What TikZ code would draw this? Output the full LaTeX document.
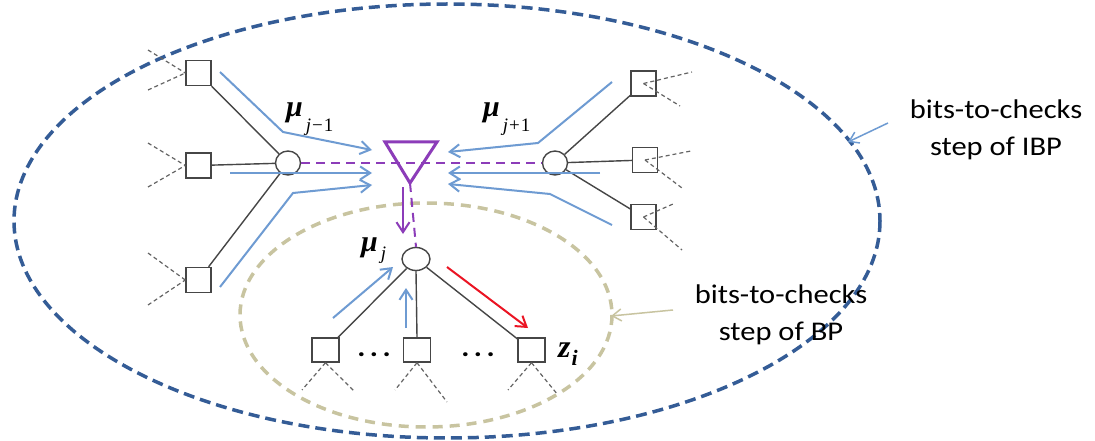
\documentclass[tikz,border=0pt]{standalone}
\usepackage{fontspec}
\usetikzlibrary{arrows.meta,shapes.geometric}
\newfontfamily\labfont[FakeStretch=1.13]{Carlito}
\newfontfamily\tnr{Liberation Serif}
\definecolor{ringblue}{RGB}{52,92,150}
\definecolor{ringtan}{RGB}{200,196,160}
\definecolor{flowblue}{RGB}{110,155,210}
\definecolor{chkpurple}{RGB}{140,60,185}
\definecolor{outred}{RGB}{235,20,35}
\definecolor{linkgray}{RGB}{70,70,70}
\definecolor{stubgray}{RGB}{100,100,100}
\begin{document}
\begin{tikzpicture}[x=1pt,y=-1pt,
  sqbox/.style={draw=linkgray, line width=1.4pt, minimum width=25pt, minimum height=25pt, inner sep=0pt},
  lowbox/.style={sqbox, minimum width=27pt, minimum height=24pt},
  bitnode/.style={ellipse, draw=linkgray, line width=1.4pt, minimum width=25pt, minimum height=24pt, inner sep=0pt},
  linkline/.style={draw=linkgray, line width=1.4pt},
  stub/.style={draw=stubgray, line width=1.2pt, dash pattern=on 4pt off 3pt},
  flow/.style={draw=flowblue, line width=2pt, line join=round, -{Straight Barb[length=10pt,width=13pt]}},
  outflow/.style={flow, draw=outred},
  chkline/.style={draw=chkpurple, line width=2pt, dash pattern=on 9pt off 6pt},
  chkflow/.style={flow, draw=chkpurple},
  pointer/.style={line width=1.5pt, -{Straight Barb[length=9pt,width=12pt]}},
  caption/.style={font=\labfont\fontsize{27}{36.5}\selectfont, align=center, inner sep=0pt},
  mathlab/.style={anchor=base west, inner sep=0pt, font=\tnr}
]
\fill[white] (0,0) rectangle (1095,441);
\useasboundingbox (0,0) rectangle (1095,441);

% enclosing rings
\draw[ringblue, line width=3.5pt, dash pattern=on 11pt off 6pt] (447,221) ellipse [x radius=433, y radius=217];
\draw[ringtan, line width=3.5pt, dash pattern=on 10pt off 7pt] (426,315) ellipse [x radius=186, y radius=112];

% check nodes (squares) and bit nodes (circles)
\node[sqbox] (L1) at (198.5,73) {};
\node[sqbox] (L2) at (198.5,165.5) {};
\node[sqbox] (L3) at (198.5,280) {};
\node[sqbox] (R1) at (643.5,83.5) {};
\node[sqbox] (R2) at (645,160) {};
\node[sqbox] (R3) at (643.5,217) {};
\node[lowbox] (B1) at (325.5,350) {};
\node[lowbox] (B2) at (417,350) {};
\node[lowbox] (B3) at (531.5,350) {};
\node[bitnode] (CL) at (288,163) {};
\node[bitnode] (CR) at (555,163) {};
\node[bitnode, minimum width=28pt, minimum height=23pt] (CB) at (416,259) {};

% graph edges
\draw[linkline] (CL) -- (L1);
\draw[linkline] (CL) -- (L2);
\draw[linkline] (CL) -- (L3);
\draw[linkline] (CR) -- (R1);
\draw[linkline] (CR) -- (R2);
\draw[linkline] (CR) -- (R3);
\draw[linkline] (CB) -- (B1);
\draw[linkline] (CB.south) -- (B2.north);
\draw[linkline] (CB) -- (B3);

% dashed stubs towards the rest of the graph
\coordinate (l1a) at (148,50);  \coordinate (l1b) at (148,90);
\coordinate (l2a) at (148,143); \coordinate (l2b) at (148,187);
\coordinate (l3a) at (148,253); \coordinate (l3b) at (148,305);
\draw[stub] (l1a) -- (L1.west); \draw[stub] (l1b) -- (L1.west);
\draw[stub] (l2a) -- (L2.west); \draw[stub] (l2b) -- (L2.west);
\draw[stub] (l3a) -- (L3.west); \draw[stub] (l3b) -- (L3.west);
\coordinate (r1a) at (692,72);  \coordinate (r1b) at (680,106);
\coordinate (r2a) at (691,151); \coordinate (r2b) at (682,188);
\coordinate (r3a) at (673,204); \coordinate (r3b) at (682,250);
\draw[stub] (R1.center) -- (r1a); \draw[stub] (R1.center) -- (r1b);
\draw[stub] (R2.center) -- (r2a); \draw[stub] (R2.center) -- (r2b);
\draw[stub] (R3.center) -- (r3a); \draw[stub] (R3.center) -- (r3b);
\coordinate (b1a) at (302,390); \coordinate (b1b) at (355,392);
\coordinate (b2a) at (395,390); \coordinate (b2b) at (447,402);
\coordinate (b3a) at (508,390); \coordinate (b3b) at (558,395);
\draw[stub] (B1.south) -- (b1a); \draw[stub] (B1.south) -- (b1b);
\draw[stub] (B2.south) -- (b2a); \draw[stub] (B2.south) -- (b2b);
\draw[stub] (B3.south) -- (b3a); \draw[stub] (B3.south) -- (b3b);

% dots between the lower checks
\node[font=\labfont\fontsize{27}{27}\selectfont\bfseries, inner sep=0pt, anchor=base] (dotsA) at (374,356) {.\,.\,.};
\node[font=\labfont\fontsize{27}{27}\selectfont\bfseries, inner sep=0pt, anchor=base] (dotsB) at (478,356) {.\,.\,.};

% check-side links (purple)
\coordinate (Tl) at (385,142);
\coordinate (Tr) at (437,142);
\coordinate (Tb) at (410,183);
\draw[chkline] (CL.east) -- (CR.west);
\draw[chkline] (Tb) -- (CB.north);
\draw[chkpurple, line width=3pt, line join=miter] (Tl) -- (Tr) -- (Tb) -- cycle;
\coordinate (pa) at (403,187);
\coordinate (pb) at (403,234);
\draw[chkflow] (pa) -- (pb);

% incoming messages from the left
\draw[flow] (220,72) -- (283,132) -- (372,150);
\draw[flow] (230,173) -- (372,173);
\draw[flow] (220,287) -- (293,193) -- (372,185);
% incoming messages from the right
\draw[flow] (612,82) -- (538,143) -- (448,152);
\draw[flow] (600,173) -- (448,173);
\draw[flow] (612,225) -- (550,194) -- (448,184);
% lower messages
\draw[flow] (333,318) -- (393,267);
\draw[flow] (406,328) -- (406,288);
\draw[outflow] (447,267) -- (528,328);

% message labels
\node[mathlab] (muA) at (286,116.5) {\fontsize{30}{30}\selectfont\bfseries\itshape μ\hspace{3pt}\raisebox{-15.5pt}{\fontsize{19}{19}\selectfont\mdseries j\hspace{1pt}\upshape −\hspace{1pt}1}};
\node[mathlab] (muB) at (483,116.5) {\fontsize{30}{30}\selectfont\bfseries\itshape μ\hspace{3pt}\raisebox{-15.5pt}{\fontsize{19}{19}\selectfont\mdseries j\hspace{1pt}\upshape +\hspace{1pt}1}};
\node[mathlab] (muC) at (361,251) {\fontsize{30}{30}\selectfont\bfseries\itshape μ\hspace{3pt}\raisebox{-8pt}{\fontsize{19}{19}\selectfont\mdseries j}};
\node[mathlab] (zi) at (558,357) {\fontsize{32}{32}\selectfont\bfseries\itshape z\hspace{1pt}\raisebox{-8pt}{\fontsize{22}{22}\selectfont i}};

% captions with pointers to the rings
\node[caption] (ibp) at (996,130) {bits-to-checks\\step of IBP};
\node[caption] (bp) at (781,315) {bits-to-checks\\step of BP};
\coordinate (ibpa) at (888,123); \coordinate (ibpb) at (848,142);
\coordinate (bpa) at (673,310);  \coordinate (bpb) at (611,316);
\draw[pointer, flowblue] (ibpa) -- (ibpb);
\draw[pointer, ringtan] (bpa) -- (bpb);
\end{tikzpicture}
\end{document}
